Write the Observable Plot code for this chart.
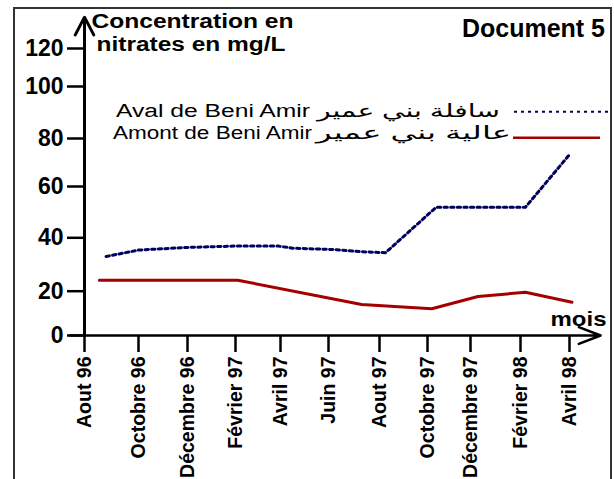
<!DOCTYPE html>
<html>
<head>
<meta charset="utf-8">
<script src="https://cdn.jsdelivr.net/npm/d3@7"></script>
<script src="https://cdn.jsdelivr.net/npm/@observablehq/plot@0.6"></script>
<style>
html, body { margin: 0; padding: 0; background: #fff; overflow: hidden; }
#wrap { position: relative; width: 614px; height: 479px; overflow: hidden; background: #fff; }
#frame { position: absolute; left: 13px; top: 7px; width: 599px; height: 600px; border: 2px solid #333; box-sizing: border-box; }
#chart { position: absolute; left: 0; top: 0; }
</style>
</head>
<body>
<div id="wrap"><div id="frame"></div><div id="chart"></div></div>
<script>
// ---- data ----
const monthTicks = [0, 2, 4, 6, 8, 10, 12, 14, 16, 18, 20]; // months since Aout 96
const monthLabels = ["Aout 96", "Octobre 96", "Décembre 96", "Février 97", "Avril 97", "Juin 97",
                     "Aout 97", "Octobre 97", "Décembre 97", "Février 98", "Avril 98"];
const yTicks = [0, 20, 40, 60, 80, 100, 120];

const avalMonth = [0.8, 2, 4, 6, 7.9, 8.5, 10.2, 11.25, 12.25, 14.4, 18.2, 20];
const avalValue = [33.0, 35.4, 36.4, 36.9, 36.9, 36.1, 35.6, 34.8, 34.4, 51.9, 51.9, 73.3];
const amontMonth = [0.55, 6.1, 11.3, 14.2, 16.3, 18.2, 20.1];
const amontValue = [24.1, 24.1, 14.0, 12.1, 17.6, 19.5, 15.0];

const seriesLatin = ["Aval de Beni Amir", "Amont de Beni Amir"];
const seriesArabic = ["سافلة بني عمير", "عالية بني عمير"];
const yTitle = ["Concentration en", "nitrates en mg/L"];
const xTitle = "mois";
const docTitle = "Document 5";

const avalColor = "#00005e";
const amontColor = "#a40000";

const aval = avalMonth.map((m, i) => ({month: m, value: avalValue[i]}));
const amont = amontMonth.map((m, i) => ({month: m, value: amontValue[i]}));

const font = "'Liberation Sans', Arial, 'DejaVu Sans', sans-serif";

const plot = Plot.plot({
  width: 614,
  height: 479,
  marginLeft: 84,
  marginRight: 14,
  marginTop: 17,
  marginBottom: 144,
  style: {fontFamily: font, background: "transparent", overflow: "visible", color: "#000"},
  x: {type: "linear", domain: monthTicks, range: [84, 138, 187, 235, 280, 328, 379, 427, 470, 520, 569]},
  y: {type: "linear", domain: yTicks, range: [335, 290.7, 237.3, 186, 138, 86, 48]},
  marks: [
    Plot.axisY(yTicks, {anchor: "left", tickSize: 17, tickPadding: 4, fontSize: 23, fontWeight: "bold",
                        strokeWidth: 2.5, label: null}),
    Plot.axisX(monthTicks, {anchor: "bottom", tickSize: 17, tickPadding: 4, tickRotate: -90,
                            fontSize: 19.5, fontWeight: "bold", strokeWidth: 2.5, label: null,
                            tickFormat: d => monthLabels[monthTicks.indexOf(d)]}),
    Plot.arrow([0], {x1: () => -0.52, x2: () => 21.27, y1: () => 0, y2: () => 0,
                     stroke: "#000", strokeWidth: 2.5, headLength: 14, headAngle: 42}),
    Plot.arrow([0], {x1: () => 0, x2: () => 0, y1: () => 0, y2: () => 136.5,
                     stroke: "#000", strokeWidth: 3, headLength: 10, headAngle: 55}),
    Plot.line(aval, {x: "month", y: "value", stroke: avalColor, strokeWidth: 3, strokeDasharray: "3.3,3.3"}),
    Plot.line(amont, {x: "month", y: "value", stroke: amontColor, strokeWidth: 3})
  ]
});

document.getElementById("chart").appendChild(plot);

// ---- annotations: titles and legend ----
const svg = d3.select(plot);
const ann = svg.append("g").attr("font-family", font).attr("fill", "#000").attr("text-anchor", "start");

function addText(str, x, y, size, weight, len) {
  ann.append("text")
    .attr("x", x)
    .attr("y", y)
    .attr("text-anchor", "start")
    .attr("font-size", size)
    .attr("font-weight", weight)
    .attr("textLength", len)
    .attr("lengthAdjust", "spacingAndGlyphs")
    .text(str);
}

addText(yTitle[0], 91.5, 27.7, 20, "bold", 202);
addText(yTitle[1], 96.5, 51, 20, "bold", 189);
addText(docTitle, 462, 36.7, 25, "bold", 143);
addText(xTitle, 550.5, 326, 21, "bold", 56);

addText(seriesLatin[0], 116, 116.5, 18, "normal", 194);
addText(seriesArabic[0], 317, 116.5, 18, "normal", 183);
addText(seriesLatin[1], 113, 139.3, 18, "normal", 199);
addText(seriesArabic[1], 316, 139.3, 18, "normal", 195);

ann.append("line").attr("x1", 514).attr("x2", 608).attr("y1", 111.7).attr("y2", 111.7)
  .attr("stroke", avalColor).attr("stroke-width", 2).attr("stroke-dasharray", "3,4");
ann.append("line").attr("x1", 513).attr("x2", 600).attr("y1", 137.7).attr("y2", 137.7)
  .attr("stroke", amontColor).attr("stroke-width", 2.5);
</script>
</body>
</html>
